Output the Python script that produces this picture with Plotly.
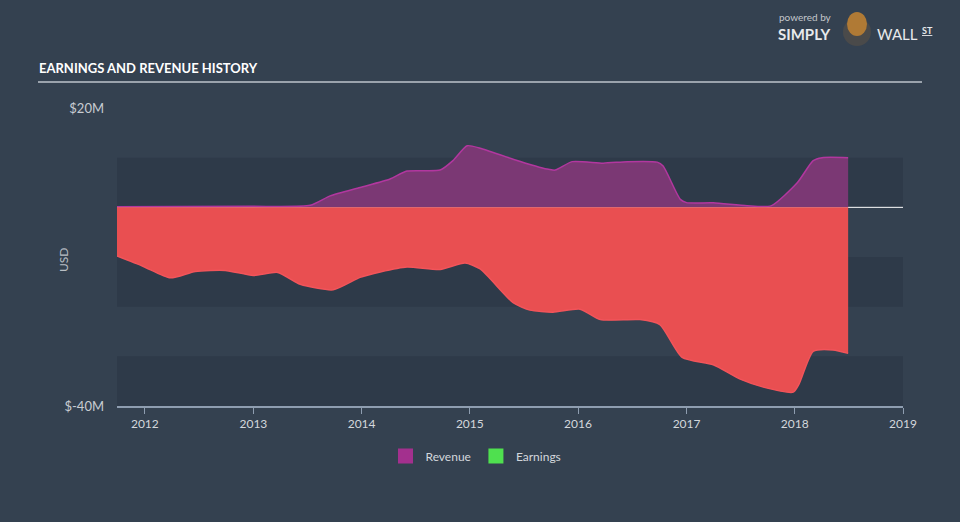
import plotly.graph_objects as go

# ---- data (values in $M) ----
rev_dates = ["2011-09-29", "2012-12-22", "2013-07-12", "2013-09-17", "2013-12-27",
             "2014-04-07", "2014-06-03", "2014-09-23", "2014-11-05", "2014-12-23",
             "2015-02-05", "2015-05-27", "2015-09-18", "2015-10-16", "2015-12-12",
             "2016-03-26", "2016-06-15", "2016-09-24", "2016-10-14", "2016-12-11",
             "2017-01-01", "2017-04-01", "2017-07-24", "2017-10-13", "2018-01-10",
             "2018-03-04", "2018-04-03", "2018-06-30"]
revenue = [0.1, 0.2, 0.4, 2.3, 4.0,
           5.7, 7.3, 7.5, 9.4, 12.4,
           11.9, 9.7, 7.7, 7.5, 9.2,
           8.9, 9.2, 9.1, 8.3, 1.6,
           0.95, 0.9, 0.3, 0.3, 5.0,
           9.4, 10.0, 10.0]

earn_dates = ["2011-09-29", "2011-12-27", "2012-03-27", "2012-06-19", "2012-09-28",
              "2013-01-01", "2013-03-24", "2013-06-08", "2013-09-27", "2013-12-27",
              "2014-03-05", "2014-06-03", "2014-09-23", "2014-12-16", "2015-02-05",
              "2015-05-27", "2015-07-23", "2015-10-08", "2016-01-08", "2016-03-16",
              "2016-07-28", "2016-10-03", "2016-12-17", "2017-04-01", "2017-07-01",
              "2017-09-17", "2017-12-27", "2018-01-16", "2018-03-04", "2018-05-10",
              "2018-06-30"]
earnings = [-9.8, -11.9, -14.2, -12.9, -12.7,
            -13.7, -13.1, -15.5, -16.6, -14.1,
            -13.0, -12.0, -12.5, -11.2, -12.4,
            -19.2, -20.7, -21.1, -20.5, -22.6,
            -22.6, -23.6, -30.2, -31.7, -34.6,
            -36.2, -37.2, -35.5, -29.0, -28.7,
            -29.4]

year_ticks = ["2012-01-01", "2013-01-01", "2014-01-01", "2015-01-01",
              "2016-01-01", "2017-01-01", "2018-01-01", "2019-01-01"]
year_labels = ["2012", "2013", "2014", "2015", "2016", "2017", "2018", "2019"]
y_ticks = [20, -40]
y_labels = ["$20M", "$-40M"]
bands = [(0, 10), (-20, -10), (-40, -30)]

BG = "#344150"
BAND = "#2e3a49"
TXT = "#d3d7dc"
FONT = "Lato, 'Open Sans', sans-serif"


def px(xp):
    return (xp - 117) / 786


def py(yp):
    return (406 - yp) / 298


fig = go.Figure()

fig.add_trace(go.Scatter(
    x=rev_dates, y=revenue, mode="lines", fill="tozeroy",
    line=dict(color="#b2379f", width=1.5, shape="spline", smoothing=0.6),
    fillcolor="#7b3874", showlegend=False, hoverinfo="skip"))
fig.add_trace(go.Scatter(
    x=earn_dates, y=earnings, mode="lines", fill="tozeroy",
    line=dict(color="#f2545a", width=1.5, shape="spline", smoothing=0.6),
    fillcolor="#e94f51", showlegend=False, hoverinfo="skip"))

# legend-only entries
fig.add_trace(go.Scatter(x=[None], y=[None], mode="markers", name="Revenue",
                         marker=dict(symbol="square", size=15, color="#a3308e")))
fig.add_trace(go.Scatter(x=[None], y=[None], mode="markers", name="Earnings",
                         marker=dict(symbol="square", size=15, color="#4fe04f")))

shapes = []
for y0, y1 in bands:
    shapes.append(dict(type="rect", xref="paper", yref="y", x0=0, x1=1, y0=y0, y1=y1,
                       fillcolor=BAND, line=dict(width=0), layer="below"))
shapes.append(dict(type="line", xref="paper", yref="y", x0=0, x1=1, y0=0, y1=0,
                   line=dict(color="#ffffff", width=1), layer="below"))
# title underline
shapes.append(dict(type="line", xref="paper", yref="paper",
                   x0=px(38), x1=px(922), y0=py(82), y1=py(82),
                   line=dict(color="#9aa2ac", width=2)))
# logo bull badge
shapes.append(dict(type="circle", xref="paper", yref="paper",
                   x0=px(843), x1=px(871), y0=py(46), y1=py(18),
                   fillcolor="#4a4a4a", line=dict(width=0)))
shapes.append(dict(type="circle", xref="paper", yref="paper",
                   x0=px(847), x1=px(867), y0=py(36), y1=py(12),
                   fillcolor="#b07a35", line=dict(width=0)))

annotations = [
    dict(text="<b>EARNINGS AND REVENUE HISTORY</b>", xref="paper", yref="paper",
         x=px(37), y=py(68), xanchor="left", yanchor="middle", showarrow=False,
         font=dict(family=FONT, size=13, color="#ffffff")),
    dict(text="USD", xref="paper", yref="paper", x=px(63), y=py(260),
         xanchor="center", yanchor="middle", textangle=-90, showarrow=False,
         font=dict(family=FONT, size=12, color="#b9bec5")),
    dict(text="powered by", xref="paper", yref="paper", x=px(777), y=py(17),
         xanchor="left", yanchor="middle", showarrow=False,
         font=dict(family=FONT, size=10, color="#c3c7cc")),
    dict(text="<b>SIMPLY</b>", xref="paper", yref="paper", x=px(776), y=py(34),
         xanchor="left", yanchor="middle", showarrow=False,
         font=dict(family=FONT, size=15, color="#e8eaec")),
    dict(text="WALL", xref="paper", yref="paper", x=px(875), y=py(34),
         xanchor="left", yanchor="middle", showarrow=False,
         font=dict(family=FONT, size=15, color="#e8eaec")),
    dict(text="<b><u>ST</u></b>", xref="paper", yref="paper", x=px(920), y=py(30),
         xanchor="left", yanchor="middle", showarrow=False,
         font=dict(family=FONT, size=9, color="#e8eaec")),
]

fig.update_layout(
    width=960, height=522,
    margin=dict(l=117, r=57, t=108, b=116),
    paper_bgcolor=BG, plot_bgcolor=BG,
    font=dict(family=FONT, color=TXT, size=12),
    shapes=shapes, annotations=annotations,
    showlegend=True,
    legend=dict(orientation="h", x=px(476), xanchor="center",
                y=py(456), yanchor="middle",
                font=dict(family=FONT, size=12, color=TXT),
                bgcolor="rgba(0,0,0,0)", itemwidth=30),
    xaxis=dict(type="date", range=["2011-09-29", "2019-01-01"],
               tickvals=year_ticks, ticktext=year_labels,
               showgrid=False, zeroline=False, showline=True,
               linecolor="#8e9db0", linewidth=1.5,
               ticks="outside", ticklen=6, tickcolor="#8e9db0", tickwidth=1,
               tickfont=dict(family=FONT, size=12, color=TXT), fixedrange=True),
    yaxis=dict(range=[-40, 20], tickvals=y_ticks, ticktext=y_labels,
               showgrid=False, zeroline=False, showline=False, ticks="",
               ticklabelstandoff=12,
               tickfont=dict(family=FONT, size=13, color="#c8ccd2"), fixedrange=True),
)

fig.write_html("out.html")
